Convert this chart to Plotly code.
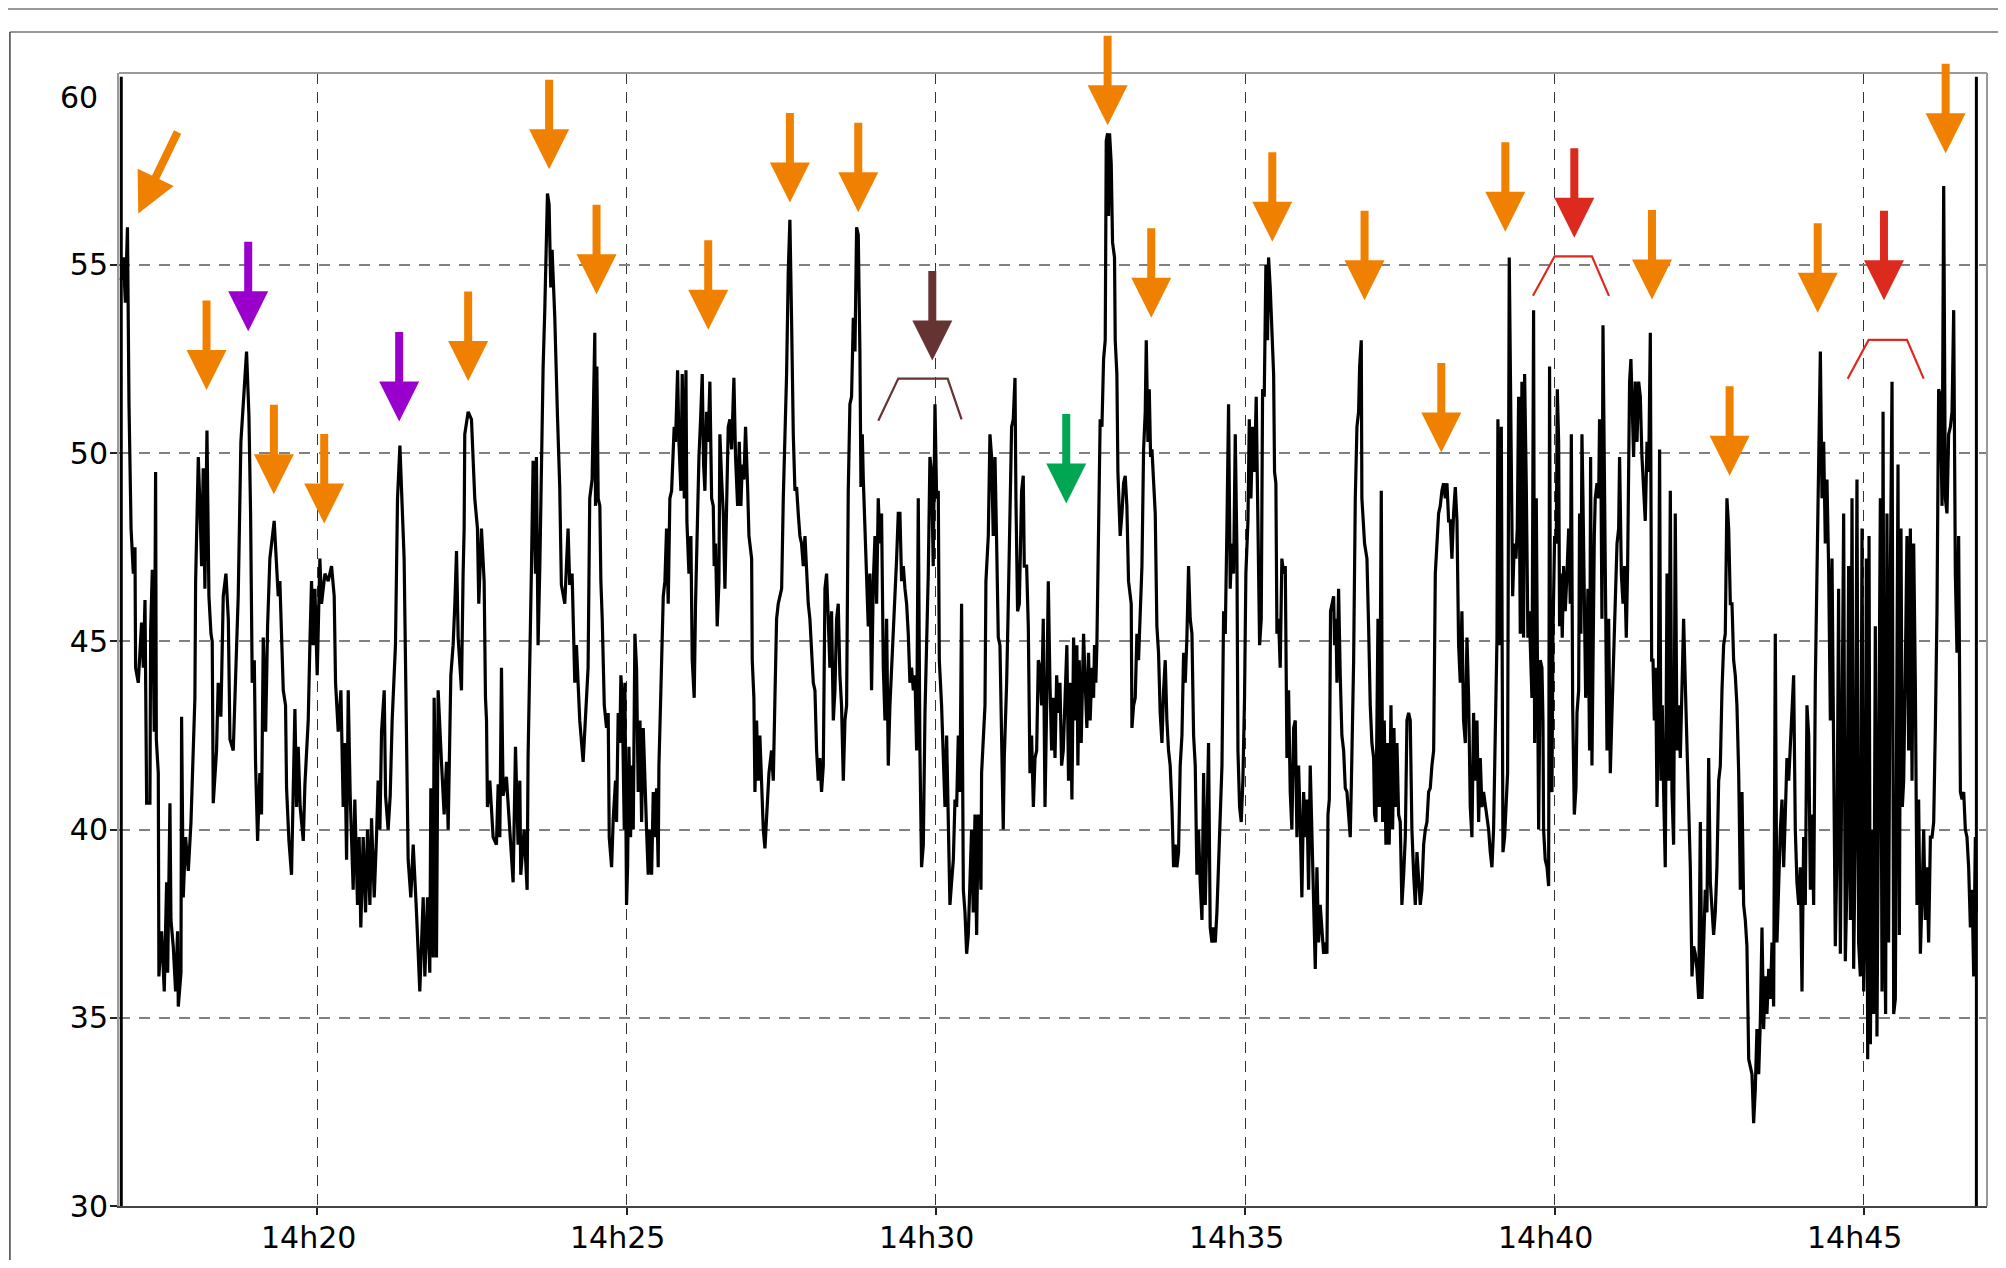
import pandas as pd
import plotly.graph_objects as go

BASE = pd.Timestamp("2024-01-01 14:17:00")

# ---- series: seconds after 14:17:00 and values ----
seg1_sec = [
    -10, -8, -6, -5, -4, -2.5, -1.6, -0.5, 1.7, 3.3,
    3.9, 6.5, 9.7, 11.4, 13.0, 13.6, 14.6, 17.8, 18.5, 20.1,
    22.0, 23.3, 24.0, 25.9, 26.5, 29.1, 31.7, 33.0, 34.0, 35.0,
    37.2, 38.2, 40.4, 42.7, 44.6, 45.3, 47.9, 48.5, 50.1, 52.4,
    55.0, 57.6, 59.2, 61.4, 62.1, 64.7, 66.3, 67.9, 69.5, 71.1,
    73.1, 75.0, 77.0, 78.2, 79.2, 82.4, 84.0, 86.6, 88.9, 91.5,
    93.8, 95.4, 98.6, 101.2, 103.4, 106.0, 108.3, 111.5, 113.8, 115.4,
    117.0, 119.0, 120.2, 122.2, 124.4, 126.0, 127.7, 130.0, 131.9, 134.1,
    138.3, 140.6, 142.2, 143.8, 145.4, 147.1, 149.3, 150.3, 152.6, 155.1,
    156.8, 158.4, 160.0, 161.6, 163.5, 166.5, 168.1, 171.3, 172.9, 174.5,
    176.1, 177.8, 180.0, 182.6, 184.2, 187.5, 190.7, 193.9, 196.5, 197.8,
    200.4, 203.0, 205.2, 206.8, 208.5, 210.1, 212.0, 214.9, 216.5, 219.1,
    220.7, 222.3, 224.6, 226.9, 228.8, 231.1, 232.7, 235.3, 237.5, 239.1,
    240.8, 242.4, 245.0, 246.3, 248.8, 250.8, 252.7, 254.7, 255.9, 257.9,
    260.2, 264.3, 265.6, 266.9, 268.2, 270.8, 273.1, 276.3, 279.5, 282.8,
    284.4, 287.0, 289.2, 290.2, 292.5, 293.4, 294.7, 295.7, 297.3, 300.5,
    303.1, 305.4, 307.0, 309.6, 311.8, 313.5, 315.1, 316.7, 319.9, 321.5,
    322.5, 323.1, 326.4, 329.6, 332.8, 335.4, 336.7, 339.3, 341.9, 343.2,
    344.2, 345.1, 347.4, 350.6, 353.8, 355.5, 357.1, 358.7, 360.3, 363.5,
    366.8, 370.0, 372.3, 374.8, 376.5, 377.4, 380.7, 383.6, 384.5, 386.2,
    387.8, 389.4, 391.7, 392.6, 394.2, 395.9, 398.1, 399.1, 400.7, 403.3,
    404.9, 406.5, 407.8, 410.4, 413.0, 415.2, 416.8, 420.1, 423.3, 424.9,
    427.2, 429.8, 431.4, 434.6, 437.9, 440.1, 442.7, 444.3, 446.6, 449.2,
]
seg1_val = [
    54.6, 55.2, 54.0, 55.3, 56.0, 51.3, 49.9, 48.0, 46.8, 47.5,
    44.3, 43.9, 45.5, 44.3, 46.1, 43.0, 40.7, 40.7, 45.3, 46.9,
    42.6, 49.5, 42.4, 41.5, 36.1, 37.3, 35.7, 37.4, 38.6, 36.2,
    40.7, 37.6, 36.9, 35.7, 37.3, 35.3, 36.2, 43.0, 38.2, 39.8,
    38.9, 40.2, 41.9, 43.5, 46.6, 49.9, 48.6, 47.0, 49.6, 46.4,
    50.6, 46.2, 45.2, 45.0, 40.7, 42.1, 43.9, 43.0, 46.2, 46.8,
    45.6, 42.4, 42.1, 44.3, 46.2, 50.3, 51.4, 52.7, 51.0, 48.4,
    43.9, 44.5, 41.8, 39.7, 41.5, 40.4, 45.1, 42.6, 45.4, 47.2,
    48.2, 46.8, 46.2, 46.6, 45.1, 43.7, 43.3, 41.1, 39.7, 38.8,
    41.1, 43.2, 40.6, 42.2, 40.6, 39.7, 41.2, 42.9, 44.9, 46.6,
    44.9, 46.4, 44.1, 47.2, 46.0, 46.8, 46.6, 47.0, 46.2, 43.9,
    42.6, 43.7, 40.6, 42.3, 39.2, 43.7, 40.9, 38.4, 40.8, 38.0,
    39.8, 37.4, 39.8, 37.8, 40.0, 38.0, 40.3, 38.2, 39.8, 41.3,
    40.0, 42.6, 43.7, 40.9, 40.0, 40.9, 42.9, 44.5, 44.9, 48.8,
    50.2, 47.2, 44.1, 40.9, 39.2, 38.2, 39.6, 37.8, 35.7, 38.2,
    36.1, 38.2, 36.2, 41.1, 36.6, 43.5, 41.1, 36.6, 43.7, 41.8,
    40.4, 41.8, 40.0, 44.1, 44.9, 46.0, 47.4, 45.1, 43.7, 46.8,
    48.0, 50.5, 51.1, 50.9, 48.8, 48.0, 46.0, 48.0, 46.6, 43.5,
    42.9, 40.6, 41.3, 39.8, 39.6, 41.2, 39.8, 44.3, 40.9, 41.4,
    39.8, 38.6, 42.2, 39.6, 41.3, 38.8, 40.0, 38.4, 41.9, 44.1,
    47.0, 49.8, 46.8, 49.9, 44.9, 47.0, 51.5, 52.3, 53.8, 56.9,
    56.6, 54.4, 55.4, 53.6, 51.0, 49.1, 46.5, 46.0, 48.0, 46.5,
    46.8, 43.9, 44.9, 42.9, 41.8, 43.1, 44.3, 48.8, 49.3, 53.2,
]

seg2_sec = [
    449.9, 451.2, 452.5, 454.1, 455.1, 456.4, 458.4, 460.6, 462.2, 463.2,
    465.5, 467.1, 469.3, 470.3, 471.9, 473.5, 474.5, 475.8, 477.8, 478.4,
    479.4, 480.0, 481.0, 482.3, 483.9, 484.9, 486.5, 488.1, 489.7, 491.3,
    493.0, 494.6, 496.2, 497.8, 499.4, 501.0, 502.6, 504.3, 505.9, 507.5,
    509.1, 510.7, 511.4, 513.3, 515.6, 517.2, 518.8, 520.4, 522.0, 523.7,
    526.2, 527.5, 529.5, 530.8, 532.7, 534.0, 536.0, 537.6, 538.5, 540.5,
    542.4, 543.7, 545.6, 546.9, 548.6, 550.2, 551.8, 553.4, 554.7, 556.0,
    557.6, 559.2, 560.8, 562.5, 564.1, 565.0, 566.3, 567.9, 569.6, 570.5,
    572.2, 573.8, 575.4, 577.0, 578.6, 580.2, 581.9, 584.1, 585.7, 587.7,
    589.3, 590.9, 592.2, 593.8, 595.4, 597.4, 598.7, 601.3, 601.9, 603.5,
    604.5, 606.1, 607.7, 609.3, 611.0, 612.6, 614.2, 615.8, 618.1, 620.6,
    622.3, 623.9, 625.5, 627.1, 630.4, 632.0, 633.6, 635.2, 636.8, 638.4,
    640.0, 641.7, 643.3, 644.9, 646.5, 648.1, 649.7, 651.4, 653.0, 654.6,
    656.2, 657.8, 659.4, 661.1, 662.7, 664.3, 665.9, 667.5, 669.1, 670.8,
    672.4, 674.0, 675.6, 677.2, 678.8, 680.5, 682.1, 683.7, 685.3, 686.9,
    688.5, 690.2, 691.8, 693.4, 695.0, 696.6, 698.2, 699.9, 701.5, 703.1,
    704.7, 706.3, 707.3, 708.6, 709.6, 711.2, 712.8, 714.4, 716.0, 717.6,
    719.3, 720.9, 722.5, 724.1, 725.7, 727.3, 729.0, 730.6, 732.2, 733.8,
    735.4, 737.0, 738.7, 740.3, 741.9, 743.5, 745.1, 746.7, 748.4, 750.0,
    751.6, 753.2, 754.8, 756.4, 758.1, 759.7, 761.3, 762.9, 764.5, 766.1,
    767.8, 769.4, 771.0, 772.6, 774.2, 775.8, 777.4, 779.1, 780.7, 782.3,
    783.3, 785.5, 787.2, 788.8, 790.4, 792.0, 793.6, 795.2, 796.9, 798.5,
    800.1, 801.7, 803.3, 804.9, 805.9, 806.6, 808.2, 809.8, 811.4, 813.0,
    814.6, 816.2, 817.9, 819.5, 821.1, 822.7, 823.7, 824.3, 825.9, 827.6,
    828.5, 830.8, 832.4, 834.0, 835.6, 837.3, 838.9, 840.5, 842.1, 843.7,
    845.3, 846.3, 848.6, 850.2, 851.8, 853.4, 855.0, 856.7, 857.6, 859.2,
    860.9, 863.1, 864.7, 865.7, 868.0, 869.6, 871.2, 872.8, 874.5, 876.1,
    877.7, 879.3, 880.9, 882.5, 884.1, 885.8, 887.4, 889.0, 890.6, 892.2,
    893.8, 895.5, 897.1, 898.7, 900.3, 901.9, 903.5, 905.2,
]
seg2_val = [
    48.6, 52.3, 48.8, 48.6, 46.6, 45.6, 43.3, 42.7, 43.1, 39.8,
    39.0, 40.3, 41.3, 40.2, 43.1, 42.3, 44.1, 43.5, 40.0, 43.9,
    39.4, 38.0, 39.0, 42.2, 39.8, 41.7, 40.0, 45.2, 44.3, 41.0,
    42.9, 40.2, 42.7, 41.0, 40.0, 38.8, 40.0, 38.8, 41.0, 39.8,
    41.1, 39.0, 41.7, 43.7, 46.2, 46.6, 48.0, 46.0, 48.8, 49.0,
    50.7, 50.3, 52.2, 50.3, 49.0, 52.1, 48.8, 52.2, 48.2, 46.8,
    47.8, 44.5, 43.5, 46.0, 48.4, 49.9, 50.9, 52.1, 49.7, 49.0,
    51.1, 50.3, 51.9, 48.8, 48.6, 47.0, 47.6, 45.4, 46.6, 50.5,
    49.3, 48.4, 46.4, 48.4, 50.7, 50.9, 50.1, 52.0, 49.9, 48.6,
    50.3, 48.6, 49.7, 49.3, 50.7, 49.1, 47.8, 47.2, 44.5, 43.5,
    41.0, 42.9, 41.3, 42.5, 41.1, 40.0, 39.5, 40.2, 41.5, 42.1,
    41.3, 43.5, 45.6, 46.0, 46.4, 48.8, 50.3, 52.1, 54.8, 56.2,
    53.6, 50.5, 49.0, 49.1, 48.4, 47.8, 47.6, 47.0, 47.8, 46.8,
    46.0, 45.6, 44.9, 43.9, 43.7, 42.1, 41.3, 41.9, 41.0, 41.7,
    46.4, 46.8, 45.6, 44.3, 45.8, 42.9, 43.7, 45.6, 46.0, 44.1,
    43.3, 41.3, 42.9, 43.3, 49.0, 51.3, 51.5, 53.6, 52.7, 56.0,
    55.8, 52.7, 49.1, 50.5, 49.3, 47.8, 46.8, 45.4, 46.8, 43.7,
    46.6, 47.8, 46.0, 48.8, 47.6, 48.4, 44.3, 42.9, 45.6, 41.7,
    43.3, 44.3, 44.9, 46.0, 47.2, 48.4, 48.4, 46.6, 47.0, 46.4,
    46.0, 45.2, 43.9, 44.3, 43.7, 44.1, 42.1, 48.8, 42.1, 39.0,
    39.6, 43.1, 44.9, 46.8, 49.9, 49.5, 47.0, 51.3, 48.8, 49.0,
    44.5, 43.3, 41.9, 40.6, 42.5, 40.2, 38.0, 38.6, 39.2, 40.8,
    40.6, 42.5, 41.0, 46.0, 42.9, 38.4, 37.8, 36.7, 37.2, 39.0,
    40.0, 37.8, 40.4, 37.2, 40.4, 39.4, 38.4, 41.5, 42.5, 43.3,
    46.6, 47.8, 50.5, 49.9, 47.8, 49.9, 47.6, 45.1, 44.9, 41.7,
    40.0, 41.9, 43.9, 46.0, 48.8, 50.7, 50.9, 52.0, 48.8, 45.8,
    46.0, 49.0, 49.4, 47.0, 47.0, 45.4, 41.5, 42.5, 40.6, 41.9,
    42.1, 44.5, 44.3, 43.3, 45.6, 40.6, 43.3, 46.6, 43.9, 42.1,
    43.5, 41.9, 44.1, 43.1, 43.9, 41.7, 42.1, 43.3,
]

seg3_sec = [
    907.0, 908.6, 910.2, 911.9, 913.5, 915.1, 916.7, 917.7, 919.0, 920.9,
    923.2, 924.8, 926.4, 928.0, 929.6, 931.3, 932.9, 933.8, 935.1, 936.1,
    937.1, 939.3, 941.0, 942.6, 944.2, 945.2, 946.5, 947.4, 948.4, 950.0,
    951.3, 953.2, 953.9, 955.5, 956.5, 958.7, 960.4, 962.0, 963.6, 965.2,
    966.8, 969.4, 970.1, 971.7, 973.3, 974.9, 976.5, 978.1, 979.8, 981.4,
    983.0, 984.0, 985.6, 986.9, 988.2, 989.5, 991.1, 992.7, 994.3, 995.9,
    997.5, 999.2, 1000.8, 1002.4, 1004.0, 1005.6, 1007.2, 1008.9, 1010.5, 1012.1,
    1013.7, 1015.3, 1016.9, 1018.6, 1020.2, 1021.8, 1023.4, 1025.0, 1026.6, 1028.3,
    1029.9, 1031.5, 1033.1, 1034.7, 1036.3, 1038.0, 1039.6, 1041.2, 1042.8, 1044.4,
    1046.0, 1047.7, 1049.3, 1050.9, 1052.5, 1054.1, 1055.7, 1057.4, 1059.0, 1060.6,
    1062.2, 1063.8, 1065.4, 1067.0, 1068.7, 1070.3, 1071.9, 1072.9, 1074.5, 1076.1,
    1077.7, 1079.3, 1080.6, 1082.6, 1083.9, 1085.5, 1087.1, 1089.0, 1090.6, 1092.3,
    1093.9, 1095.5, 1096.8, 1098.4, 1100.0, 1101.6, 1102.6, 1104.2, 1105.8, 1107.5,
    1108.4, 1109.7, 1110.7, 1112.3, 1113.9, 1115.5, 1117.2, 1118.8, 1120.4, 1122.0,
    1123.6, 1125.2, 1126.9, 1128.5, 1130.1, 1131.7, 1133.3, 1134.9, 1136.6, 1138.2,
    1139.8, 1141.4, 1143.0, 1144.6, 1146.3, 1147.9, 1149.5, 1151.1, 1152.7, 1154.3,
    1156.0, 1157.6, 1159.2, 1160.2, 1161.5, 1162.7, 1164.0, 1165.7, 1166.6, 1167.9,
    1168.9, 1170.5, 1172.1, 1173.7, 1175.4, 1177.0, 1178.6, 1180.2, 1181.8, 1182.8,
    1185.1, 1186.7, 1188.3, 1189.9, 1190.9, 1192.5, 1193.1, 1195.7, 1198.0, 1199.6,
    1201.2, 1202.8, 1204.5, 1205.4, 1206.7, 1208.7, 1210.0, 1211.9, 1213.2, 1214.8,
    1216.4, 1218.0, 1219.6, 1221.3, 1222.9, 1224.2, 1225.5, 1227.1, 1228.7, 1230.3,
    1231.9, 1233.6, 1235.2, 1236.8, 1238.4, 1240.0, 1241.6, 1243.3, 1244.9, 1246.5,
    1248.1, 1249.7, 1251.3, 1253.0, 1254.6, 1256.2, 1257.8, 1259.4, 1261.0, 1262.7,
    1264.3, 1265.9, 1267.5, 1269.1, 1270.7, 1272.3, 1274.0, 1275.6, 1277.2, 1278.8,
    1280.4, 1282.0, 1283.7, 1285.3, 1286.9, 1288.5, 1290.1, 1291.7, 1293.4, 1295.0,
    1296.6, 1298.2, 1299.8, 1301.4, 1303.1, 1304.7, 1306.3, 1307.9, 1309.5, 1311.1,
    1312.8, 1314.4, 1316.0, 1317.6, 1319.2, 1320.8, 1322.5, 1324.1, 1325.0, 1326.7,
    1328.3, 1329.9, 1331.5, 1332.8, 1334.4, 1336.0, 1337.7, 1339.3, 1340.9, 1342.5,
    1343.8, 1345.1, 1346.7, 1348.3, 1349.9, 1350.9, 1352.5, 1354.1, 1355.4, 1357.0,
    1358.0, 1359.6, 1360.6,
]
seg3_val = [
    44.9, 41.3, 43.9, 40.8, 45.1, 42.9, 44.9, 41.7, 44.5, 42.3,
    45.2, 43.9, 42.7, 44.7, 42.9, 44.3, 43.5, 44.9, 43.9, 44.9,
    47.2, 50.9, 50.7, 52.5, 53.0, 58.3, 58.5, 56.3, 58.5, 57.7,
    55.6, 55.2, 53.0, 52.1, 49.5, 47.8, 48.4, 49.2, 49.4, 48.6,
    46.6, 46.0, 42.7, 43.3, 43.5, 45.2, 44.5, 46.0, 47.0, 50.1,
    51.1, 53.0, 50.3, 51.7, 49.9, 50.1, 49.0, 48.4, 45.4, 44.7,
    43.1, 42.3, 43.7, 44.5, 42.9, 42.1, 41.7, 40.6, 39.0, 39.6,
    39.0, 39.4, 41.7, 42.5, 44.7, 43.9, 45.1, 47.0, 45.6, 45.2,
    42.5, 41.7, 38.8, 40.0, 38.6, 37.6, 41.5, 38.0, 40.0, 42.3,
    37.4, 37.0, 37.4, 37.0, 37.8, 39.0, 40.6, 41.7, 45.8, 45.2,
    48.0, 51.3, 46.4, 47.6, 46.8, 50.5, 47.4, 42.1, 40.6, 40.2,
    41.3, 43.5, 46.8, 48.2, 50.9, 48.8, 50.7, 49.5, 51.5, 47.8,
    44.9, 45.6, 51.7, 51.5, 55.0, 53.0, 55.2, 54.4, 53.2, 52.1,
    49.5, 49.2, 45.2, 45.6, 44.3, 47.2, 46.8, 47.0, 41.9, 43.7,
    41.0, 40.0, 42.7, 42.9, 39.8, 41.7, 40.2, 38.2, 41.0, 39.8,
    40.8, 38.4, 41.7, 40.0, 37.6, 36.3, 39.0, 37.0, 38.0, 37.4,
    36.7, 37.0, 36.7, 40.4, 40.8, 45.8, 46.0, 46.2, 44.9, 45.6,
    43.9, 46.4, 44.1, 42.5, 42.1, 41.1, 41.0, 40.4, 39.8, 41.1,
    44.5, 48.8, 50.7, 51.1, 52.3, 53.0, 48.8, 47.6, 47.2, 45.4,
    43.3, 42.3, 41.9, 40.4, 40.2, 45.6, 40.6, 49.0, 40.2, 42.9,
    39.6, 42.3, 39.6, 43.3, 40.0, 42.7, 40.6, 42.3, 40.4, 40.2,
    38.0, 38.8, 39.8, 42.9, 43.1, 42.9, 40.0, 38.8, 38.0, 39.4,
    38.8, 38.0, 38.4, 39.6, 40.0, 40.2, 41.0, 41.1, 41.7, 42.1,
    46.8, 47.8, 48.4, 48.6, 49.0, 49.2, 48.8, 49.2, 48.2, 48.2,
    47.2, 48.4, 49.1, 48.2, 44.9, 43.9, 45.8, 42.9, 42.3, 45.1,
    43.5, 40.6, 39.8, 43.1, 41.3, 42.9, 40.2, 41.9, 40.6, 41.0,
    40.6, 40.2, 40.0, 39.4, 39.0, 40.0, 42.9, 45.1, 50.9, 44.9,
    50.7, 39.4, 39.8, 40.8, 41.5, 55.2, 50.7, 46.2, 47.6, 47.2,
    48.0, 51.5, 45.2, 51.9, 45.1, 52.1, 49.2, 45.1, 45.8, 44.5,
    43.5, 53.8, 42.3,
]

seg4_sec = [
    1362.2, 1363.5, 1364.5, 1366.1, 1367.7, 1368.7, 1369.3, 1370.9, 1372.6, 1374.2,
    1375.1, 1376.4, 1377.4, 1378.4, 1380.0, 1381.6, 1382.6, 1383.9, 1384.8, 1386.1,
    1387.4, 1388.7, 1390.3, 1392.0, 1393.6, 1395.2, 1396.2, 1397.5, 1399.1, 1400.7,
    1401.7, 1403.3, 1404.2, 1405.5, 1406.5, 1407.5, 1408.8, 1410.1, 1411.4, 1412.3,
    1413.9, 1414.9, 1416.2, 1417.2, 1418.5, 1419.4, 1421.1, 1422.7, 1423.6, 1424.9,
    1425.9, 1426.9, 1428.2, 1429.5, 1430.8, 1432.4, 1434.0, 1435.6, 1437.2, 1438.8,
    1440.5, 1442.1, 1443.0, 1444.7, 1446.3, 1447.9, 1449.5, 1450.8, 1451.8, 1452.7,
    1454.0, 1455.0, 1456.6, 1458.2, 1459.9, 1461.5, 1463.1, 1464.7, 1466.3, 1467.9,
    1469.6, 1471.2, 1472.8, 1474.1, 1475.4, 1476.7, 1478.0, 1479.3, 1480.5, 1481.8,
    1483.1, 1484.4, 1485.7, 1487.3, 1489.0, 1490.6, 1492.2, 1493.8, 1495.4, 1497.0,
    1498.7, 1500.3, 1501.9, 1503.5, 1505.1, 1506.7, 1508.3, 1510.0, 1511.6, 1513.2,
    1514.8, 1516.4, 1518.0, 1519.7, 1521.3, 1522.9, 1524.5, 1526.1, 1527.7, 1529.4,
    1531.0, 1532.6, 1534.2, 1535.8, 1537.4, 1539.1, 1540.7, 1542.3, 1543.9, 1545.5,
    1547.1, 1548.8, 1550.4, 1552.0, 1553.6, 1555.2, 1556.8, 1558.5, 1560.1, 1561.7,
    1563.3, 1564.9, 1566.5, 1568.2, 1569.8, 1571.4, 1573.0, 1574.6, 1576.2, 1577.9,
    1579.5, 1581.1, 1582.7, 1584.3, 1585.9, 1587.6, 1589.2, 1590.8, 1592.4, 1594.0,
    1595.6, 1597.3, 1598.9, 1600.5, 1602.1, 1603.7, 1605.3, 1607.0, 1608.6, 1610.2,
    1611.8, 1613.4, 1615.0, 1616.7, 1618.3, 1619.9, 1621.5, 1623.1, 1624.7, 1626.4,
    1628.0, 1629.6, 1631.2, 1632.8, 1634.4, 1636.0, 1637.7, 1639.3, 1640.9, 1642.5,
    1644.1, 1645.7, 1647.4, 1649.0, 1650.6, 1652.2, 1653.8, 1655.4, 1657.1, 1658.7,
    1660.3, 1661.9, 1663.5, 1665.1, 1666.8, 1668.4, 1670.0, 1671.6, 1673.2, 1674.8,
    1676.5, 1678.1, 1679.7, 1681.3, 1682.3, 1683.6, 1684.9, 1686.2, 1687.8, 1689.4,
    1691.0, 1692.6, 1694.2, 1695.9, 1697.5, 1698.5, 1699.7, 1701.0, 1702.3, 1703.9,
    1705.6, 1707.2, 1708.8, 1710.4, 1712.0, 1713.0, 1714.3, 1715.9, 1717.2, 1718.5,
    1720.1, 1721.7, 1723.3, 1725.0, 1726.6, 1728.2, 1729.8, 1731.4, 1733.0, 1734.7,
    1736.3, 1737.9, 1739.5, 1741.1, 1742.7, 1744.4, 1746.0, 1747.6, 1749.2, 1750.8,
    1752.4, 1754.1, 1755.7, 1757.3, 1758.9, 1760.5, 1762.1, 1763.8, 1765.4, 1767.0,
    1768.6, 1770.2, 1771.8, 1773.5, 1775.1, 1776.7, 1778.3, 1779.9, 1781.5, 1783.2,
    1784.8, 1786.4, 1788.0, 1789.0,
]
seg4_val = [
    48.8, 42.1, 40.0, 44.5, 44.3, 42.9, 40.0, 39.2, 39.0, 38.5,
    52.3, 41.1, 41.0, 45.2, 47.8, 47.6, 51.7, 50.3, 45.4, 46.8,
    45.1, 47.0, 45.8, 46.8, 48.0, 46.0, 50.5, 43.3, 40.4, 41.1,
    43.1, 43.7, 48.4, 45.2, 50.5, 48.8, 45.6, 43.5, 44.9, 46.4,
    42.1, 49.9, 41.7, 44.9, 47.8, 48.8, 49.2, 48.8, 50.9, 49.5,
    45.6, 53.4, 49.0, 46.0, 42.1, 45.6, 41.5, 43.1, 44.7, 46.2,
    47.6, 48.0, 49.9, 46.8, 46.0, 47.0, 45.1, 47.0, 49.3, 51.9,
    52.5, 51.5, 49.9, 51.9, 50.3, 51.9, 51.5, 49.9, 49.2, 48.2,
    50.3, 49.5, 53.2, 44.5, 44.5, 42.9, 44.3, 40.6, 42.9, 50.1,
    41.3, 43.3, 41.0, 39.0, 46.8, 41.3, 49.0, 41.0, 39.6, 48.4,
    42.1, 43.3, 41.9, 44.3, 45.6, 43.9, 42.3, 40.4, 39.0, 36.1,
    36.9, 36.7, 36.3, 35.5, 40.2, 35.5, 37.2, 38.4, 37.8, 41.9,
    38.6, 38.0, 37.2, 37.8, 39.0, 41.3, 41.7, 43.7, 44.9, 45.2,
    48.8, 48.0, 46.0, 46.0, 44.5, 44.1, 43.3, 41.5, 38.4, 41.0,
    38.0, 37.6, 36.9, 33.9, 33.7, 33.5, 32.2, 33.1, 34.7, 33.5,
    34.9, 37.4, 34.7, 36.1, 35.1, 36.3, 35.5, 37.0, 35.3, 45.2,
    37.0, 38.6, 40.0, 40.8, 39.0, 40.4, 41.9, 41.3, 42.3, 42.9,
    44.1, 40.0, 38.6, 38.0, 39.0, 35.7, 39.8, 38.0, 43.3, 42.5,
    38.4, 40.4, 38.0, 43.9, 46.8, 50.1, 52.7, 48.8, 50.3, 47.6,
    49.3, 47.0, 42.9, 47.2, 42.3, 36.9, 39.4, 46.4, 36.7, 41.7,
    48.4, 36.5, 38.6, 47.0, 37.6, 48.8, 36.3, 40.0, 49.3, 37.0,
    36.1, 48.0, 35.7, 38.4, 47.2, 33.9, 47.8, 34.3, 40.0, 35.1,
    45.4, 34.5, 41.0, 48.8, 35.7, 51.1, 38.4, 35.1, 48.4, 37.0,
    46.8, 51.9, 35.1, 35.5, 44.5, 49.7, 37.2, 48.0, 40.6, 41.3,
    44.3, 47.8, 42.1, 48.0, 41.3, 47.6, 43.9, 38.0, 40.8, 36.7,
    38.2, 40.0, 37.6, 39.0, 37.0, 39.8, 39.8, 40.2, 42.7, 45.8,
    51.7, 51.5, 48.6, 57.1, 48.8, 48.4, 50.5, 50.7, 51.1, 53.8,
    46.8, 44.7, 47.8, 41.0, 40.8, 41.0, 40.0, 39.8, 39.0, 37.4,
    38.4, 36.1, 39.8, 37.8,
]

# ---- axes ----
tick_times = ["14:20", "14:25", "14:30", "14:35", "14:40", "14:45"]
tick_labels = ["14h20", "14h25", "14h30", "14h35", "14h40", "14h45"]
y_ticks = [30, 35, 40, 45, 50, 55]
y_top_label = "60"

# ---- annotation arrows (tip position: seconds after 14:17, value) ----
arrow_sec = [6.5, 72.7, 113.1, 138.0, 186.8, 259.5, 326.4, 404.9, 450.9, 559.2,
             638.4, 704.7, 776.5, 906.4, 946.5, 988.8, 1106.2, 1195.7, 1270.1,
             1332.2, 1399.1, 1474.4, 1549.7, 1635.1, 1699.4, 1759.2]
arrow_val = [56.37, 51.68, 53.24, 48.91, 48.13, 50.84, 51.92, 57.54, 54.22, 53.28,
             56.66, 56.40, 52.46, 48.66, 58.71, 53.60, 55.62, 54.06, 50.02,
             55.88, 55.72, 54.08, 49.40, 53.73, 54.06, 57.97]
arrow_kind = ["o", "o", "p", "o", "o", "p", "o", "o", "o", "o",
              "o", "o", "b", "g", "o", "o", "o", "o", "o",
              "o", "r", "o", "o", "o", "r", "o"]
KIND_COLOR = {"o": "#F08000", "p": "#9900CC", "b": "#663333",
              "g": "#00A651", "r": "#DD2A1E"}

bracket_brown_sec = [724.1, 743.5, 791.4, 804.9]
bracket_brown_val = [50.86, 51.98, 51.98, 50.90]
bracket_red1_sec = [1359.0, 1380.0, 1416.2, 1432.7]
bracket_red1_val = [54.18, 55.23, 55.23, 54.18]
bracket_red2_sec = [1664.2, 1684.5, 1721.7, 1737.9]
bracket_red2_val = [51.98, 53.01, 53.01, 51.98]


def T(s):
    return BASE + pd.to_timedelta(s, unit="s")


sec = seg1_sec + seg2_sec + seg3_sec + seg4_sec
val = seg1_val + seg2_val + seg3_val + seg4_val
assert len(seg1_sec) == len(seg1_val)
assert len(seg2_sec) == len(seg2_val)
assert len(seg3_sec) == len(seg3_val)
assert len(seg4_sec) == len(seg4_val)

FONT = "DejaVu Sans, Verdana, sans-serif"

fig = go.Figure()
fig.add_trace(go.Scatter(x=T(sec), y=val, mode="lines",
                         line=dict(color="black", width=3.2),
                         hoverinfo="skip", showlegend=False))

for bs, bv, col in [(bracket_brown_sec, bracket_brown_val, KIND_COLOR["b"]),
                    (bracket_red1_sec, bracket_red1_val, KIND_COLOR["r"]),
                    (bracket_red2_sec, bracket_red2_val, KIND_COLOR["r"])]:
    fig.add_trace(go.Scatter(x=T(bs), y=bv, mode="lines",
                             line=dict(color=col, width=2.2),
                             hoverinfo="skip", showlegend=False))

for i, (s, v, k) in enumerate(zip(arrow_sec, arrow_val, arrow_kind)):
    ax, ay = (40, -83) if i == 0 else (0, -91)
    fig.add_annotation(x=T(s), y=v, xref="x", yref="y", ax=ax, ay=ay,
                       text="", showarrow=True, arrowhead=2, arrowwidth=8,
                       arrowsize=1, arrowcolor=KIND_COLOR[k], standoff=0)

# x tick labels (slightly left of their tick, as in the original)
for t, lab in zip(tick_times, tick_labels):
    fig.add_annotation(x=pd.Timestamp("2024-01-01 " + t), xref="x", y=0, yref="paper",
                       text=lab, showarrow=False, xanchor="center", yanchor="middle",
                       xshift=-9, yshift=-31,
                       font=dict(family=FONT, size=30, color="black"))

# "60" label (drawn slightly below the top, no tick)
fig.add_annotation(x=0, xref="paper", y=59.46, yref="y", text=y_top_label,
                   showarrow=False, xanchor="right", xshift=-19,
                   font=dict(family=FONT, size=30, color="black"))

# edge verticals of the trace at start / end
for s in (sec[0], sec[-1]):
    fig.add_shape(type="line", xref="x", yref="y", x0=T(s), x1=T(s), y0=30, y1=60,
                  line=dict(color="black", width=3))

# plot frame (top / right)
fig.add_shape(type="line", xref="paper", yref="paper", x0=0, x1=1, y0=1, y1=1,
              line=dict(color="#999999", width=2))
fig.add_shape(type="line", xref="paper", yref="paper", x0=1, x1=1, y0=0, y1=1,
              line=dict(color="#999999", width=2))
# outer frame lines
fig.add_shape(type="line", xref="paper", yref="paper", x0=-0.06, x1=1.01,
              y0=1.0565, y1=1.0565, line=dict(color="#999999", width=2))
fig.add_shape(type="line", xref="paper", yref="paper", x0=-0.0584, x1=1.01,
              y0=1.0362, y1=1.0362, line=dict(color="#999999", width=2))
fig.add_shape(type="line", xref="paper", yref="paper", x0=-0.0584, x1=-0.0584,
              y0=-0.06, y1=1.0362, line=dict(color="#444444", width=1.5))

fig.update_layout(
    width=1990, height=1252,
    margin=dict(l=111, r=11, t=65, b=54, autoexpand=False),
    paper_bgcolor="white", plot_bgcolor="white",
    showlegend=False,
    font=dict(family=FONT, size=30, color="black"),
)
fig.update_xaxes(
    type="date", automargin=False,
    range=[T(-12.2), T(1799.3)],
    tickvals=[pd.Timestamp("2024-01-01 " + t) for t in tick_times],
    showticklabels=False,
    ticks="outside", ticklen=7, tickwidth=2, tickcolor="#222222",
    showgrid=True, gridcolor="#333333", gridwidth=1.2, griddash="11px,8px",
    showline=True, linecolor="#444444", linewidth=2,
    zeroline=False,
)
fig.update_yaxes(
    automargin=False,
    range=[30, 60.1],
    tickvals=y_ticks,
    ticks="outside", ticklen=7, tickwidth=2, tickcolor="#222222",
    ticklabelstandoff=-4,
    showgrid=True, gridcolor="#808080", gridwidth=1.5, griddash="11px,9px",
    showline=True, linecolor="#999999", linewidth=2,
    zeroline=False, tickfont=dict(family=FONT, size=30, color="black"),
)

fig.write_html("out.html")
